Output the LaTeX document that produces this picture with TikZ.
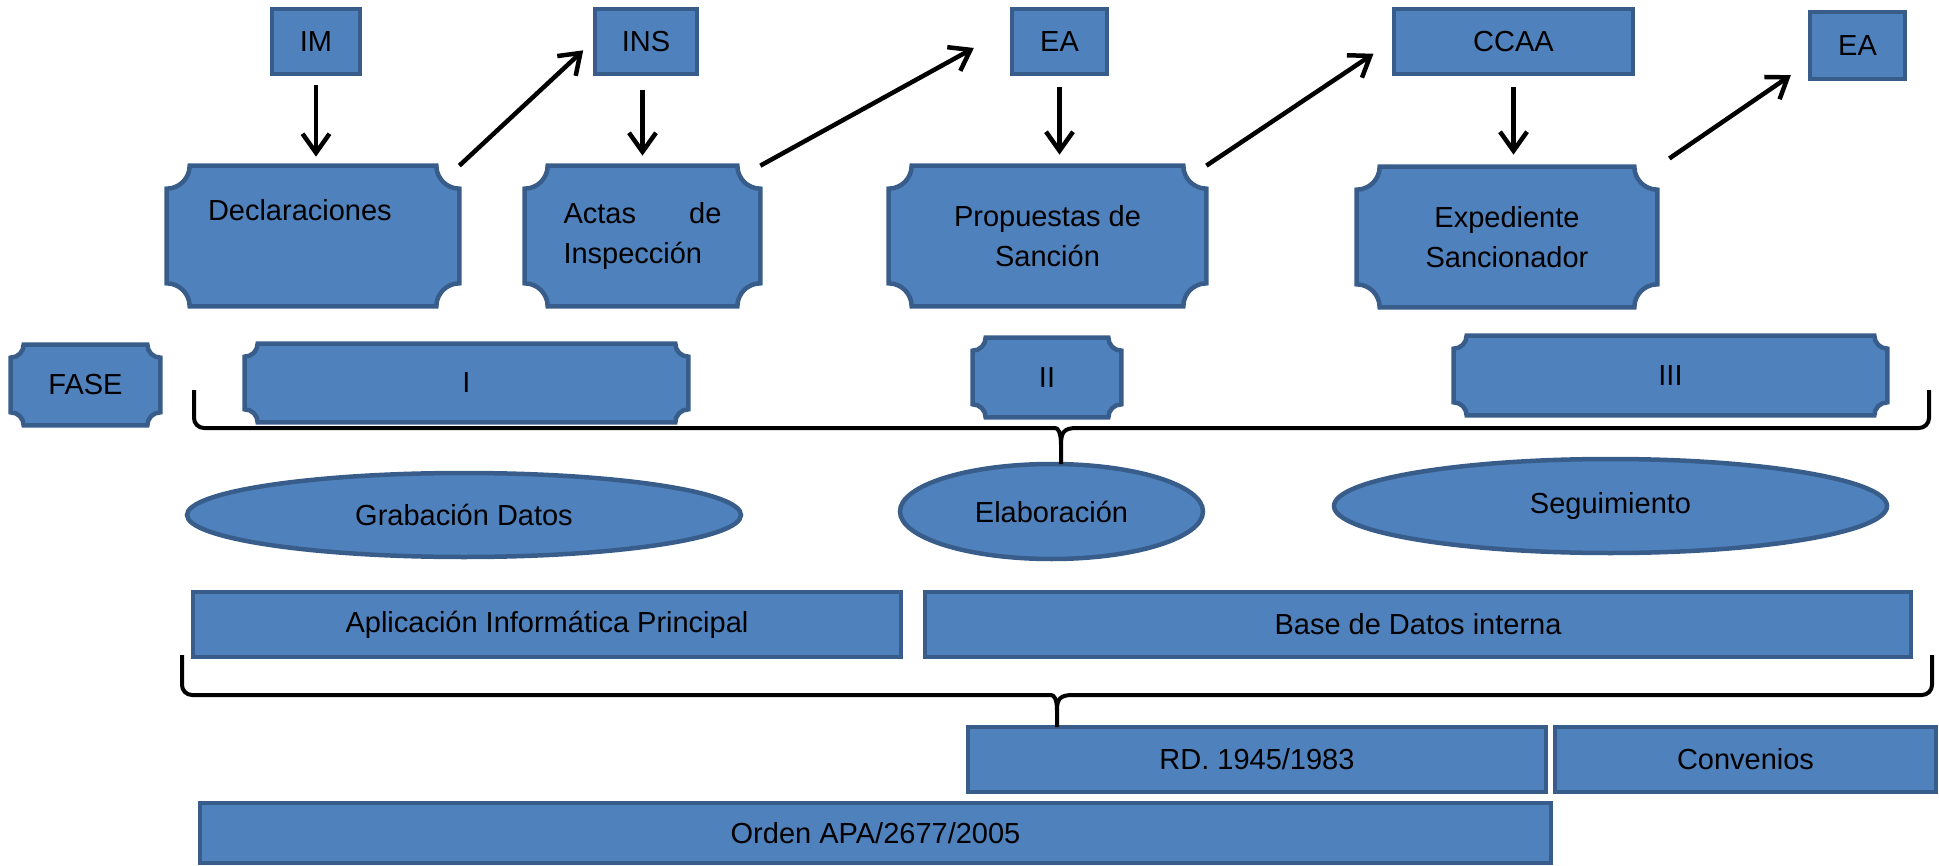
\documentclass[tikz,border=0pt]{standalone}
\usepackage{fontspec}
\setmainfont{Liberation Sans}
\usepackage{tikz}
\usetikzlibrary{positioning}
\usetikzlibrary{shapes.geometric, arrows.meta, backgrounds}

\definecolor{boxfill}{HTML}{4F81BD}
\definecolor{boxline}{HTML}{385D8A}

\begin{document}
\begin{tikzpicture}[
  every node/.style={font=\fontsize{16.5}{22.8}\selectfont,text=black},
  box/.style={rectangle,draw=boxline,fill=boxfill,line width=0.09cm,inner sep=0pt},
  plaque/.style={rectangle,inner sep=0pt},
  oval/.style={ellipse,draw=boxline,fill=boxfill,line width=0.09cm,inner sep=0pt},
  arr/.style={-{Straight Barb[length=0.38cm,width=0.54cm]},line width=0.09cm},
  brace/.style={line width=0.08cm,rounded corners=0.2cm}
]
\useasboundingbox (0,0) rectangle (38.78,-17.32);

\node[box,minimum width=1.76cm,minimum height=1.30cm] (im) at (6.32,-0.83) {IM};
\node[box,minimum width=2.04cm,minimum height=1.30cm] (ins) at (12.92,-0.83) {INS};
\node[box,minimum width=1.90cm,minimum height=1.30cm] (eaA) at (21.19,-0.83) {EA};
\node[box,minimum width=4.78cm,minimum height=1.30cm] (ccaa) at (30.27,-0.83) {CCAA};
\node[box,minimum width=1.90cm,minimum height=1.34cm] (eaB) at (37.15,-0.91) {EA};

\node[plaque,minimum width=5.84cm,minimum height=2.80cm,text width=4.2cm,align=left] (decl) at (6.26,-4.72) {Declaraciones\\\strut};
\node[plaque,minimum width=4.70cm,minimum height=2.80cm,text width=3.16cm,align=left] (actas) at (12.85,-4.72) {Actas\hfill de\\Inspección};
\node[plaque,minimum width=6.34cm,minimum height=2.80cm,align=center] (prop) at (20.95,-4.72) {Propuestas de\\Sanción};
\node[plaque,minimum width=6.00cm,minimum height=2.80cm,align=center] (exped) at (30.14,-4.74) {Expediente\\Sancionador};

\node[plaque,minimum width=2.98cm,minimum height=1.60cm] (fase) at (1.71,-7.70) {FASE};
\node[plaque,minimum width=8.86cm,minimum height=1.56cm] (faseI) at (9.33,-7.66) {I};
\node[plaque,minimum width=2.96cm,minimum height=1.58cm] (faseII) at (20.94,-7.55) {II};
\node[plaque,minimum width=8.66cm,minimum height=1.58cm] (faseIII) at (33.41,-7.51) {III};

\begin{scope}[on background layer]
\foreach \n/\r in {decl/0.46,actas/0.46,prop/0.46,exped/0.46,fase/0.26,faseI/0.26,faseII/0.26,faseIII/0.26}{
  \draw[draw=boxline,fill=boxfill,line width=0.09cm]
    ([yshift=\r cm]\n.south west) -- ([yshift=-\r cm]\n.north west)
    arc[start angle=-90,end angle=0,radius=\r cm] -- ([xshift=-\r cm]\n.north east)
    arc[start angle=180,end angle=270,radius=\r cm] -- ([yshift=\r cm]\n.south east)
    arc[start angle=90,end angle=180,radius=\r cm] -- ([xshift=\r cm]\n.south west)
    arc[start angle=0,end angle=90,radius=\r cm] -- cycle;
}
\end{scope}

\node[oval,minimum width=11.08cm,minimum height=1.68cm] (grab) at (9.28,-10.30) {Grabación Datos};
\node[oval,minimum width=6.06cm,minimum height=1.90cm] (elab) at (21.03,-10.23) {Elaboración};
\node[oval,minimum width=11.06cm,minimum height=1.88cm] (segui) at (32.21,-10.12) {Seguimiento};

\node[box,minimum width=14.16cm,minimum height=1.30cm] (aplic) at (10.94,-12.49) {Aplicación Informática Principal};
\node[box,minimum width=19.72cm,minimum height=1.30cm] (base) at (28.36,-12.49) {Base de Datos interna};
\node[box,minimum width=11.56cm,minimum height=1.30cm] (rd) at (25.14,-15.19) {RD. 1945/1983};
\node[box,minimum width=7.62cm,minimum height=1.30cm] (conv) at (34.91,-15.19) {Convenios};
\node[box,minimum width=27.02cm,minimum height=1.20cm] (orden) at (17.51,-16.66) {Orden APA/2677/2005};

\draw[arr,shorten <=0.18cm,shorten >=0.18cm] (im.south) -- (im.south |- decl.north);
\draw[arr,shorten >=0.26cm] (decl.north east) -- (ins.west);
\draw[arr,shorten <=0.28cm,shorten >=0.2cm] (actas.north |- ins.south) -- (actas.north);
\draw[arr,shorten >=0.82cm] (actas.north east) -- (eaA.165);
\draw[arr,shorten <=0.22cm,shorten >=0.22cm] (eaA.south) -- (eaA.south |- prop.north);
\draw[arr,shorten >=0.44cm] (prop.north east) -- (ccaa.west);
\draw[arr,shorten <=0.22cm,shorten >=0.24cm] (ccaa.south) -- (ccaa.south |- exped.north);
\draw[arr,shorten <=0.29cm,shorten >=0.41cm] (exped.north east) -- (eaB.200);

\draw[brace] (3.88,-7.80) -- (3.88,-8.56) -- (20.90,-8.56) [sharp corners] .. controls (21.16,-8.56) and (21.22,-8.64) .. (21.22,-8.90) -- (21.22,-9.28) -- (21.22,-8.90) .. controls (21.22,-8.64) and (21.28,-8.56) .. (21.54,-8.56) [rounded corners=0.2cm] -- (38.58,-8.56) -- (38.58,-7.80);
\draw[brace] (3.64,-13.10) -- (3.64,-13.90) -- (20.82,-13.90) [sharp corners] .. controls (21.08,-13.90) and (21.14,-13.98) .. (21.14,-14.20) -- (21.14,-14.54) -- (21.14,-14.20) .. controls (21.14,-13.98) and (21.20,-13.90) .. (21.46,-13.90) [rounded corners=0.2cm] -- (38.64,-13.90) -- (38.64,-13.10);

\end{tikzpicture}
\end{document}
